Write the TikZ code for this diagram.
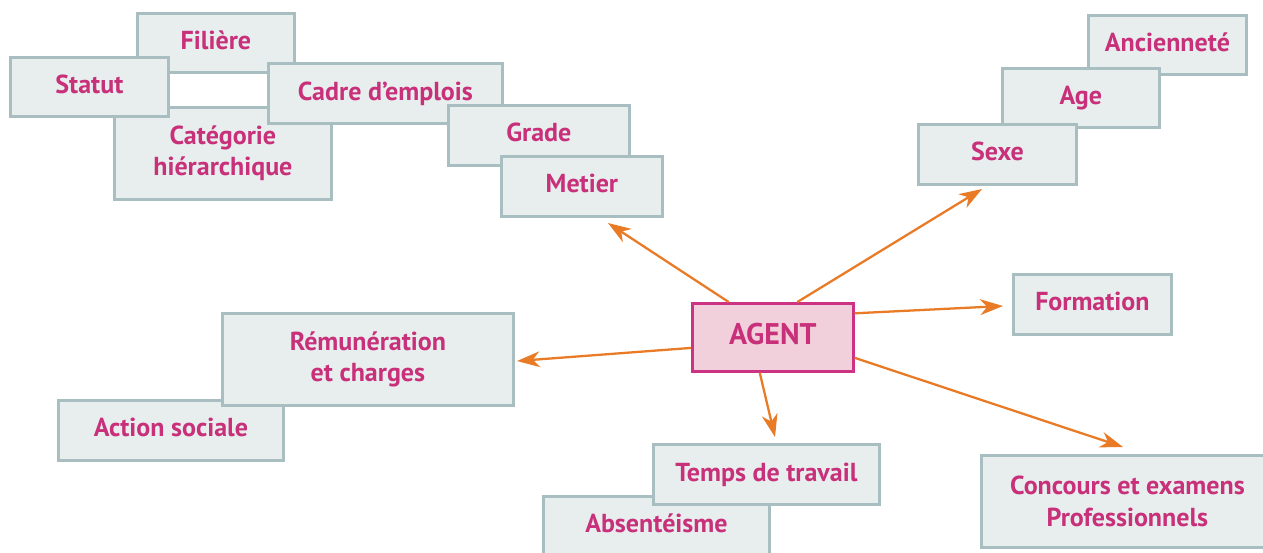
\documentclass[tikz,border=0pt]{standalone}
\usepackage{fontspec}
\setmainfont{PT Sans}
\usetikzlibrary{arrows.meta,calc}
\definecolor{txtmag}{HTML}{C8307A}
\definecolor{boxfill}{HTML}{E8EEEE}
\definecolor{boxline}{HTML}{A8BEC1}
\definecolor{agfill}{HTML}{F1D0DC}
\definecolor{agline}{HTML}{CC3385}
\definecolor{arr}{HTML}{E97B26}
\tikzset{
  infobox/.style={draw=boxline, fill=boxfill, line width=1.6pt, anchor=north west,
    inner sep=0pt, align=center, text=txtmag,
    font=\fontsize{14.8}{18}\selectfont\bfseries},
  agentbox/.style={infobox, draw=agline, fill=agfill, line width=1.5pt, font=\fontsize{17}{20}\selectfont\bfseries},
  link/.style={draw=arr, line width=1.3pt, -{Stealth[length=13pt,width=9pt,inset=4pt]}}
}
\newcommand{\bx}[7][infobox]{%
  % #2 name, #3 x1, #4 y1, #5 w, #6 h, #7 text
  \node[#1, minimum width=#5*0.02cm, minimum height=#6*0.02cm] (#2) at (#3,#4) {#7};}
\begin{document}
\begin{tikzpicture}[x=0.02cm,y=-0.02cm]
\useasboundingbox (0,0) rectangle (1263,552);
\begin{scope}
\clip (0,0) rectangle (1263,552);
% top-left cluster
\bx{filiere}{136}{12}{157}{59}{Filière\vphantom{g}}
\bx{categorie}{113}{106}{217}{92}{Catégorie\\hiérarchique}
\bx{statut}{9}{56}{158}{59}{Statut\vphantom{g}}
\bx{cadre}{267}{62}{234}{60}{Cadre d'emplois}
\bx{grade}{447}{104}{181}{60}{Grade\vphantom{g}}
\bx{metier}{500}{155}{161}{60}{Metier\vphantom{g}}
% top-right cluster
\bx{anciennete}{1087}{14}{158}{59}{Ancienneté\vphantom{g}}
\bx{age}{1001}{67}{157}{59}{Age}
\bx{sexe}{917}{123}{158}{60}{Sexe\vphantom{g}}
% right
\bx{formation}{1012}{273}{158}{60}{Formation\vphantom{g}}
\bx{concours}{980}{454}{292}{92}{Concours et examens\\Professionnels}
% left
\bx{action}{57}{399}{225}{60}{Action sociale\vphantom{g}}
\bx{remu}{221}{312}{291}{92}{Rémunération\\et charges}
% bottom
\bx{absent}{542}{495}{226}{58}{Absentéisme\vphantom{g}}
\bx{temps}{652}{443}{226}{60}{Temps de travail}
% centre
\bx[agentbox]{agent}{691}{302}{161}{68}{AGENT\vphantom{g}}
\end{scope}
% arrow start points on AGENT border
\coordinate (s1) at ($(agent.north west)!0.23!(agent.north east)$);
\coordinate (s2) at ($(agent.north west)!0.65!(agent.north east)$);
\coordinate (s3) at ($(agent.north east)!0.16!(agent.south east)$);
\coordinate (s4) at ($(agent.north east)!0.79!(agent.south east)$);
\coordinate (s5) at ($(agent.south west)!0.42!(agent.south east)$);
\coordinate (s6) at ($(agent.north west)!0.65!(agent.south west)$);
% arrow tips
\coordinate (t1) at (608,223);
\coordinate (t2) at (982,189);
\coordinate (t3) at (1003,306);
\coordinate (t4) at (1123,447);
\coordinate (t5) at (775,437);
\coordinate (t6) at (517,361);
\draw[link] (s1) -- (t1);
\draw[link] (s2) -- (t2);
\draw[link] (s3) -- (t3);
\draw[link] (s4) -- (t4);
\draw[link] (s5) -- (t5);
\draw[link] (s6) -- (t6);
\end{tikzpicture}
\end{document}
